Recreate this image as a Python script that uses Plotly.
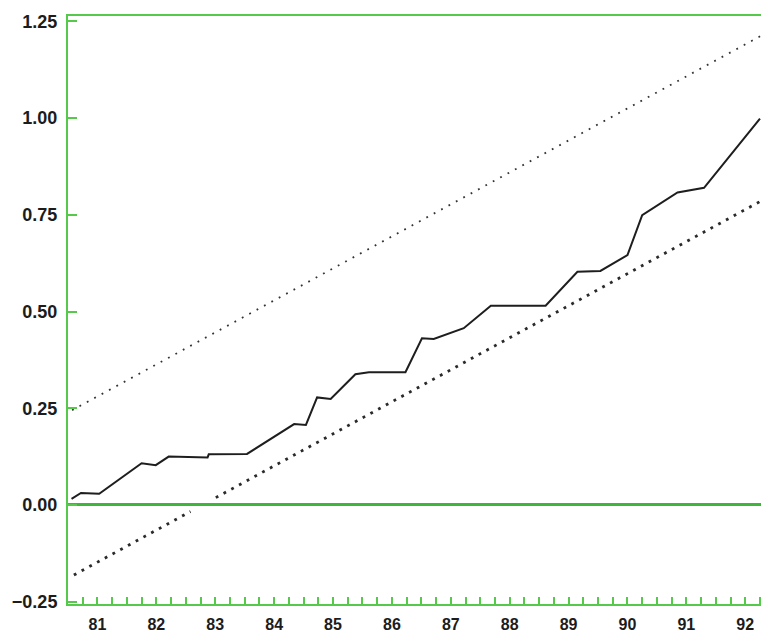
import plotly.graph_objects as go

# ---- data ----
series_x = [1981.06, 1981.22, 1981.53, 1982.25, 1982.49, 1982.71, 1983.37, 1983.39,
            1984.04, 1984.84, 1985.04, 1985.23, 1985.46, 1985.88, 1986.11, 1986.73,
            1987.01, 1987.21, 1987.72, 1988.18, 1989.11, 1989.65, 1990.04, 1990.50,
            1990.75, 1991.35, 1991.80, 1992.75]
series_y = [0.016, 0.031, 0.029, 0.108, 0.103, 0.125, 0.123, 0.131,
            0.132, 0.209, 0.207, 0.278, 0.274, 0.338, 0.343, 0.343,
            0.431, 0.429, 0.457, 0.515, 0.515, 0.603, 0.605, 0.646,
            0.749, 0.808, 0.820, 0.999]

upper_x = [1981.07, 1992.77]
upper_y = [0.245, 1.213]

lower_x = [1981.10, 1983.08, None, 1983.51, 1992.77]
lower_y = [-0.181, -0.017, None, 0.019, 0.786]

years = list(range(1981, 1993))
year_labels = ["81", "82", "83", "84", "85", "86", "87", "88", "89", "90", "91", "92"]
y_ticks = [-0.25, 0.0, 0.25, 0.5, 0.75, 1.0, 1.25]
y_labels = ["\u22120.25", "0.00", "0.25", "0.50", "0.75", "1.00", "1.25"]

# the plot runs past the right edge of the window (the reference is cropped there)
x_range = [1981.0, 1993.09]
y_range = [-0.256, 1.264]

GREEN = "#55c94a"
ZGREEN = "#3fb53a"
TXT = "#1c1c1c"
FONT = "Liberation Sans"

# quarterly tick positions, label only at mid-year
q_vals, q_text = [], []
for yr, lab in zip(years, year_labels):
    for q in range(4):
        q_vals.append(yr + q * 0.25)
        q_text.append(lab if q == 2 else "")

fig = go.Figure()
fig.add_trace(go.Scatter(x=upper_x, y=upper_y, mode="lines",
                         line=dict(color="#333333", width=1.8, dash="1.8px,6.6px"),
                         hoverinfo="skip"))
fig.add_trace(go.Scatter(x=lower_x, y=lower_y, mode="lines", connectgaps=False,
                         line=dict(color="#2a2a2a", width=2.8, dash="2.8px,6px"),
                         hoverinfo="skip"))
fig.add_trace(go.Scatter(x=series_x, y=series_y, mode="lines",
                         line=dict(color="#1e1e1e", width=2)))

fig.update_layout(
    width=780, height=634,
    margin=dict(l=68, r=0, t=16, b=30, autoexpand=False),
    plot_bgcolor="white", paper_bgcolor="white",
    showlegend=False,
    font=dict(family=FONT, color=TXT),
    xaxis=dict(range=x_range, showline=True, linecolor=GREEN, linewidth=2, mirror=True,
               ticks="inside", ticklen=7, tickwidth=1.5, tickcolor=GREEN,
               tickmode="array", tickvals=q_vals, ticktext=q_text,
               tickfont=dict(size=16, color=TXT, family=FONT, weight="bold"),
               ticklabelstandoff=5, automargin=False,
               showgrid=False, zeroline=False),
    xaxis2=dict(range=x_range, overlaying="x", anchor="y", side="bottom",
                ticks="inside", ticklen=13, tickwidth=1.5, tickcolor=GREEN,
                tickmode="array", tickvals=years[1:], showticklabels=False,
                showline=False, showgrid=False, zeroline=False, automargin=False),
    yaxis=dict(range=y_range, showline=True, linecolor=GREEN, linewidth=2,
               ticks="inside", ticklen=9, tickwidth=1.5, tickcolor=GREEN,
               tickmode="array", tickvals=y_ticks, ticktext=y_labels,
               tickfont=dict(size=18, color=TXT, family=FONT, weight="bold"),
               ticklabelstandoff=5, automargin=False,
               showgrid=False, zeroline=True, zerolinecolor=ZGREEN, zerolinewidth=3),
)

fig.write_html("out.html", config={"displayModeBar": False},
               post_script="document.body.style.margin='0';document.body.style.overflow='hidden';")
